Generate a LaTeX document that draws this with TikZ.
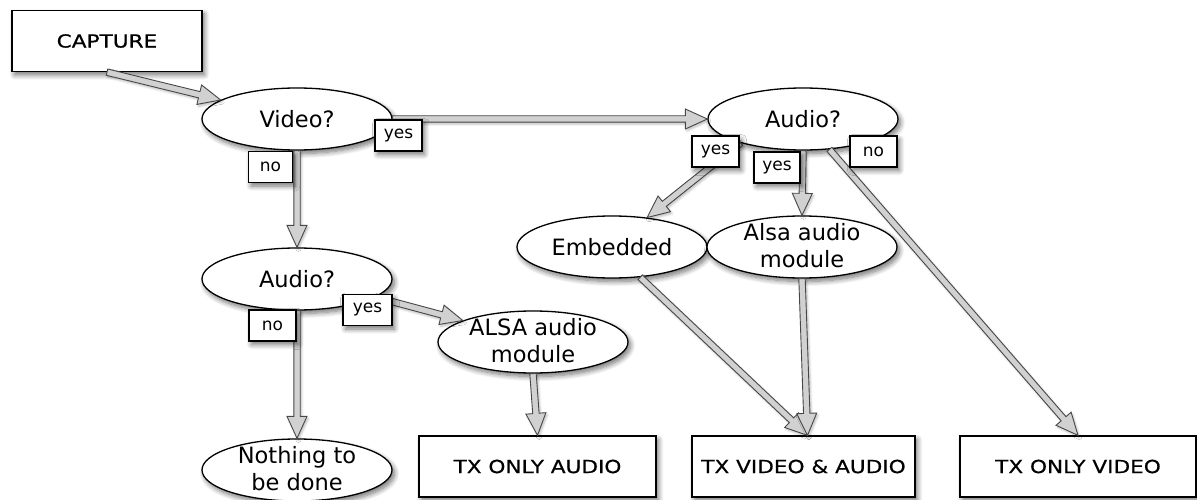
\documentclass[tikz,border=0pt]{standalone}
\usepackage{fontspec}
\setmainfont{DejaVu Sans}
\newfontfamily\capsf[FakeStretch=1.2,FakeBold=0.6]{DejaVu Sans}
\usetikzlibrary{shapes.geometric,calc,shadows.blur}
\newcommand\twolines[2]{\raisebox{-0.28em}[0pt][0pt]{\begin{tabular}{@{}c@{}}#1\\#2\end{tabular}}}
\tikzset{
  shad/.style={blur shadow={shadow xshift=2.5pt,shadow yshift=-3.5pt,shadow blur steps=8,shadow blur radius=5pt,shadow opacity=55}},
  ashad/.style={blur shadow={shadow xshift=1.5pt,shadow yshift=-2pt,shadow blur steps=4,shadow opacity=25}},
  oval/.style={ellipse,draw=black,line width=1.3pt,fill=white,minimum width=190pt,minimum height=62pt,inner sep=0pt,align=center,font=\fontsize{22.5}{27}\selectfont,shad},
  capbox/.style={rectangle,draw=black,line width=1.3pt,fill=white,minimum height=61pt,inner sep=0pt,font=\capsf\fontsize{18}{20}\selectfont,shad},
  tag/.style={rectangle,draw=black,line width=1.1pt,fill=white,minimum width=47pt,minimum height=31pt,inner sep=0pt,font=\fontsize{17}{19}\selectfont,shad},
  fatline/.style={draw=black!72,fill=black!18,line width=0.9pt,line join=miter,ashad},
}
\newcommand\fatarr[2]{%
  \coordinate (fa-s) at (#1);
  \coordinate (fa-t) at (#2);
  \coordinate (fa-b) at ($(fa-t)!22pt!(fa-s)$);
  \draw[fatline] ($(fa-s)!3.2pt!90:(fa-t)$) -- ($(fa-b)!3.2pt!-90:(fa-s)$) -- ($(fa-b)!10pt!-90:(fa-s)$) -- (fa-t) -- ($(fa-b)!10pt!90:(fa-s)$) -- ($(fa-b)!3.2pt!90:(fa-s)$) -- ($(fa-s)!3.2pt!-90:(fa-t)$) -- cycle;
}
\begin{document}
\begin{tikzpicture}[x=1pt,y=-1pt]
\useasboundingbox (0,0) rectangle (1197,500);
% main nodes
\node[capbox,minimum width=190pt] (cap) at (107,41) {CAPTURE};
\node[oval] (video) at (297,119) {Video?};
\node[oval] (audioT) at (803,119) {Audio?};
\node[oval] (audioL) at (297,279) {Audio?};
\node[oval] (emb) at (612,247) {Embedded};
\node[oval] (alsaR) at (802,247) {\twolines{Alsa audio}{module}};
\node[oval] (alsaL) at (533,342) {\twolines{ALSA audio}{module}};
\node[oval] (nothing) at (297,470) {\twolines{Nothing to}{be done}};
\node[capbox,minimum width=237pt] (txa) at (537.5,466.5) {TX ONLY AUDIO};
\node[capbox,minimum width=223pt] (txva) at (803.5,466.5) {TX VIDEO \& AUDIO};
\node[capbox,minimum width=236pt] (txv) at (1078,466.5) {TX ONLY VIDEO};
\coordinate (txvaIn) at ($(txva.north)+(4,0)$);
% connectors
\fatarr{cap.south}{video.166}
\fatarr{video.east}{audioT.west}
\fatarr{video.south}{audioL.north}
\fatarr{audioL.south}{nothing.north}
\fatarr{audioL.-13}{alsaL.163}
\fatarr{alsaL.south}{txa.north}
\fatarr{audioT.201}{emb.40}
\fatarr{audioT.south}{alsaR.north}
\fatarr{audioT.-49}{txv.north}
\fatarr{emb.-47}{txvaIn}
\fatarr{alsaR.south}{txvaIn}
% branch labels
\node[tag] (yV) at (398.5,135.5) {yes};
\node[tag,minimum width=44pt] (nV) at (270.5,167) {no};
\node[tag] (yA1) at (715.5,151.5) {yes};
\node[tag,minimum width=46pt] (yA2) at (777,167.5) {yes};
\node[tag] (nA) at (873.5,151.5) {no};
\node[tag] (nL) at (272.5,325.5) {no};
\node[tag,minimum width=49pt] (yL) at (367.5,310) {yes};
\end{tikzpicture}
\end{document}
